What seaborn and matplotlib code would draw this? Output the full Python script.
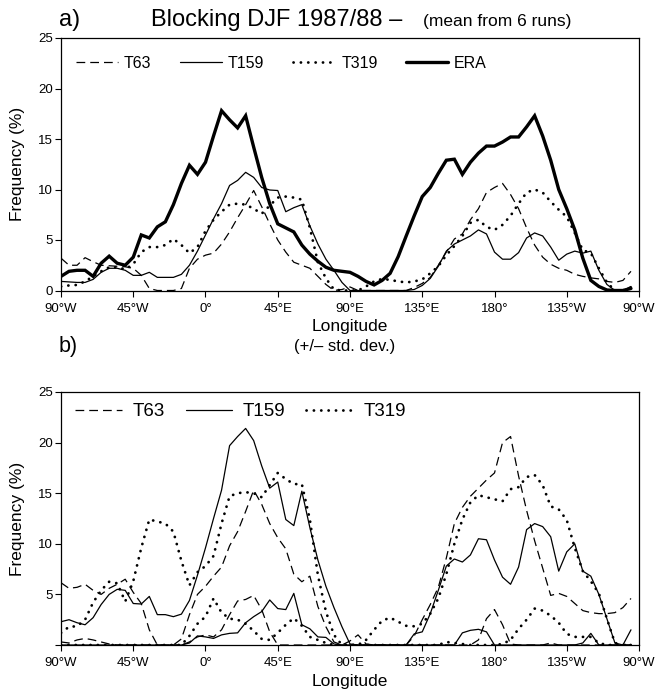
import numpy as np
import pandas as pd
import matplotlib
matplotlib.use("Agg")
import matplotlib.pyplot as plt
import seaborn as sns

sns.set_style("ticks")
plt.rcParams['font.family'] = ['Liberation Sans', 'DejaVu Sans']
for key in ["text.color", "axes.labelcolor", "xtick.color", "ytick.color", "axes.edgecolor"]:
    plt.rcParams[key] = "black"

# longitude grid, 90W .. 95W (degrees east, -90..265)
lon = list(range(-90, 270, 5))

# ---- panel a: mean blocking frequency (%)
era = [1.4, 1.9, 2.0, 2.0, 1.4, 2.7, 3.4, 2.7, 2.5,
       3.3, 5.5, 5.2, 6.3, 6.8, 8.5, 10.6, 12.4, 11.5,
       12.7, 15.3, 17.8, 16.9, 16.1, 17.3, 14.2, 11.2, 8.6,
       6.6, 6.2, 5.8, 4.5, 3.6, 2.9, 2.3, 2.0, 1.9,
       1.8, 1.4, 0.9, 0.55, 1.0, 1.7, 3.35, 5.4, 7.4,
       9.3, 10.2, 11.6, 12.9, 13.0, 11.5, 12.7, 13.6, 14.3,
       14.3, 14.7, 15.2, 15.2, 16.2, 17.3, 15.3, 12.9, 10.0,
       8.1, 6.0, 3.2, 1.0, 0.4, 0.05, 0.0, 0.0, 0.2]
t63 = [3.2, 2.5, 2.5, 3.25, 2.85, 2.5, 2.45, 2.4, 2.35,
       2.2, 1.5, 0.2, 0.0, 0.0, 0.0, 0.2, 2.2, 3.1,
       3.5, 3.7, 4.6, 5.8, 7.2, 8.5, 9.9, 8.3, 6.6,
       5.0, 3.8, 2.8, 2.5, 2.2, 1.4, 0.6, 0.0, 0.1,
       0.35, 0.0, 0.0, 0.0, 0.0, 0.0, 0.0, 0.0, 0.3,
       0.7, 1.3, 2.5, 3.8, 5.1, 5.6, 7.0, 8.1, 9.7,
       10.2, 10.6, 9.5, 8.1, 6.2, 4.5, 3.3, 2.6, 2.2,
       2.0, 1.6, 1.4, 1.25, 1.15, 0.9, 0.8, 1.0, 1.9]
t159 = [0.9, 0.85, 0.8, 0.8, 1.1, 1.8, 2.2, 2.2, 2.0,
        1.5, 1.5, 1.8, 1.3, 1.3, 1.3, 1.6, 2.5, 3.9,
        5.5, 7.1, 8.6, 10.4, 10.9, 11.7, 11.2, 10.2, 9.95,
        9.9, 7.8, 8.2, 8.5, 6.4, 4.6, 3.1, 2.0, 0.8,
        0.0, 0.0, 0.0, 0.0, 0.0, 0.0, 0.0, 0.0, 0.1,
        0.5, 1.2, 2.4, 3.9, 4.6, 5.0, 5.4, 6.0, 5.6,
        3.8, 3.1, 3.1, 3.75, 5.2, 5.7, 5.4, 4.3, 3.0,
        3.6, 3.9, 3.7, 3.9, 2.0, 0.6, 0.0, 0.0, 0.4]
t319 = [0.4, 0.5, 0.55, 0.9, 1.4, 1.9, 2.3, 2.3, 2.1,
        2.6, 3.8, 4.3, 4.3, 4.5, 5.1, 4.5, 3.7, 4.3,
        5.9, 7.0, 7.8, 8.5, 8.6, 8.5, 8.1, 7.6, 8.4,
        9.2, 9.3, 9.2, 9.0, 6.2, 2.8, 1.2, 0.1, 0.0,
        0.0, 0.0, 0.4, 0.9, 1.15, 1.05, 0.9, 0.8, 0.9,
        1.1, 1.7, 2.4, 3.5, 4.4, 5.4, 6.7, 7.0, 6.3,
        6.0, 6.5, 7.4, 8.6, 9.7, 10.0, 9.7, 8.8, 8.0,
        7.3, 5.7, 4.0, 3.7, 2.2, 0.8, 0.0, 0.0, 0.3]

# ---- panel b: mean +/- one standard deviation (%)
t63_hi = [6.15, 5.6, 5.7, 6.0, 5.4, 5.0, 5.6, 6.0, 6.5,
          5.2, 4.1, 1.5, 0.0, 0.0, 0.0, 0.6, 3.0, 5.0,
          5.8, 6.8, 7.7, 9.8, 11.2, 13.2, 15.3, 13.9, 12.0,
          10.6, 9.5, 7.0, 6.25, 6.8, 3.8, 1.8, 0.3, 0.0,
          0.4, 1.0, 0.1, 0.0, 0.0, 0.0, 0.0, 0.0, 0.9,
          2.5, 4.0, 5.7, 8.6, 12.0, 13.6, 14.7, 15.5, 16.3,
          17.0, 20.0, 20.6, 16.7, 13.3, 10.3, 7.6, 4.9, 5.1,
          4.8, 4.1, 3.4, 3.2, 3.1, 3.1, 3.2, 3.7, 4.6]
t63_lo = [0.3, 0.2, 0.5, 0.65, 0.5, 0.3, 0.1, 0.0, 0.0,
          0.0, 0.0, 0.0, 0.0, 0.0, 0.0, 0.0, 0.3, 0.8,
          1.0, 0.8, 1.5, 3.0, 4.35, 4.5, 4.9, 3.5, 1.3,
          0.0, 0.0, 0.0, 0.0, 0.0, 0.0, 0.0, 0.0, 0.0,
          0.0, 0.0, 0.0, 0.0, 0.0, 0.0, 0.0, 0.0, 0.0,
          0.0, 0.0, 0.0, 0.0, 0.0, 0.0, 0.0, 0.5, 2.6,
          3.5, 2.0, 0.1, 0.0, 0.0, 0.0, 0.0, 0.2, 0.0,
          0.0, 0.0, 0.0, 0.0, 0.0, 0.0, 0.0, 0.0, 0.0]
t159_hi = [2.3, 2.5, 2.2, 2.0, 2.7, 4.0, 5.0, 5.5, 5.4,
           4.1, 4.05, 4.8, 3.0, 3.0, 2.8, 3.05, 4.4, 6.9,
           9.6, 12.5, 15.3, 19.7, 20.6, 21.4, 20.2, 17.7, 15.5,
           16.1, 12.4, 11.8, 15.2, 11.6, 8.4, 5.8, 3.7, 1.8,
           0.1, 0.0, 0.0, 0.0, 0.0, 0.0, 0.0, 0.0, 1.1,
           1.3, 3.1, 5.4, 7.8, 8.5, 8.2, 8.9, 10.5, 10.4,
           8.4, 6.7, 6.0, 7.7, 11.4, 12.0, 11.7, 10.7, 7.3,
           9.2, 10.0, 7.3, 6.8, 5.0, 2.6, 0.2, 0.0, 1.5]
t159_lo = [0.0, 0.0, 0.0, 0.0, 0.0, 0.0, 0.0, 0.0, 0.0,
           0.0, 0.0, 0.0, 0.0, 0.0, 0.0, 0.0, 0.2, 0.9,
           0.8, 0.65, 1.0, 1.15, 1.2, 2.2, 2.8, 3.3, 4.45,
           3.6, 3.5, 5.1, 2.0, 1.6, 0.8, 0.75, 0.1, 0.0,
           0.0, 0.0, 0.0, 0.0, 0.0, 0.0, 0.0, 0.0, 0.0,
           0.0, 0.0, 0.0, 0.0, 0.0, 1.2, 1.45, 1.55, 1.3,
           0.0, 0.0, 0.0, 0.0, 0.0, 0.0, 0.0, 0.0, 0.0,
           0.0, 0.0, 0.2, 1.15, 0.0, 0.0, 0.0, 0.0, 0.0]
t319_hi = [1.2, 1.8, 1.85, 2.5, 4.2, 5.4, 6.25, 6.1, 4.3,
           6.3, 9.6, 12.4, 12.2, 12.0, 11.2, 8.3, 5.9, 7.2,
           7.8, 8.8, 12.0, 14.7, 15.0, 15.1, 15.0, 14.6, 15.8,
           17.0, 16.4, 15.9, 15.9, 12.4, 6.9, 3.3, 1.0, 0.0,
           0.0, 0.0, 0.5, 1.5, 2.4, 2.7, 2.3, 1.9, 1.85,
           2.1, 3.1, 4.6, 7.0, 10.0, 12.4, 14.1, 14.8, 14.6,
           14.4, 14.2, 15.4, 15.6, 16.6, 16.8, 15.8, 13.7, 13.4,
           12.35, 9.6, 7.3, 6.3, 5.1, 2.6, 0.2, 0.0, 0.0]
t319_lo = [0.0, 0.0, 0.0, 0.0, 0.0, 0.0, 0.0, 0.0, 0.0,
           0.0, 0.0, 0.0, 0.0, 0.0, 0.0, 0.0, 0.9, 2.1,
           2.8, 4.6, 3.2, 2.6, 2.5, 2.1, 1.4, 0.6, 0.5,
           1.2, 2.0, 2.65, 1.9, 0.8, 0.5, 0.2, 0.0, 0.0,
           0.0, 0.0, 0.0, 0.0, 0.0, 0.0, 0.0, 0.0, 0.0,
           0.0, 0.0, 0.0, 0.3, 0.2, 0.1, 0.0, 0.0, 0.0,
           0.0, 0.1, 0.5, 1.6, 2.5, 3.6, 3.4, 2.9, 2.2,
           1.1, 0.8, 0.8, 0.8, 0.2, 0.0, 0.0, 0.0, 0.0]

xtick_pos = [-90, -45, 0, 45, 90, 135, 180, 225, 270]
xtick_lab = ["90°W", "45°W", "0°", "45°E", "90°E", "135°E", "180°", "135°W", "90°W"]

W, H = 657, 692
fig = plt.figure(figsize=(W / 100, H / 100), dpi=100)
ax_a = fig.add_axes([61 / W, 1 - 290.5 / H, 578 / W, 252.5 / H])
ax_b = fig.add_axes([61 / W, 1 - 645 / H, 578 / W, 253 / H])

styles = {
    "T63": dict(color="black", lw=0.9, linestyle=(0, (7, 4))),
    "T159": dict(color="black", lw=0.9, linestyle="-"),
    "T319": dict(color="black", lw=2.0, linestyle=(0, (0.05, 2.6)), dash_capstyle="round"),
    "ERA": dict(color="black", lw=2.4, linestyle="-", solid_joinstyle="miter"),
}

df_a = pd.DataFrame({"lon": lon, "T63": t63, "T159": t159, "T319": t319, "ERA": era})
for name in ["T63", "T159", "T319", "ERA"]:
    sns.lineplot(data=df_a, x="lon", y=name, ax=ax_a, label=name,
                 estimator=None, errorbar=None, **styles[name])

df_b = pd.DataFrame({"lon": lon, "T63_hi": t63_hi, "T63_lo": t63_lo,
                     "T159_hi": t159_hi, "T159_lo": t159_lo,
                     "T319_hi": t319_hi, "T319_lo": t319_lo})
for name in ["T63", "T159", "T319"]:
    sns.lineplot(data=df_b, x="lon", y=name + "_hi", ax=ax_b, label=name,
                 estimator=None, errorbar=None, **styles[name])
    sns.lineplot(data=df_b, x="lon", y=name + "_lo", ax=ax_b,
                 estimator=None, errorbar=None, **styles[name])

for ax in (ax_a, ax_b):
    ax.set_xlim(-90, 270)
    ax.set_ylim(0, 25)
    ax.set_xticks(xtick_pos)
    ax.set_xticklabels(xtick_lab)
    ax.set_yticks([0, 5, 10, 15, 20, 25])
    ax.tick_params(axis="both", direction="out", length=4, width=0.8, labelsize=9.5)
    ax.tick_params(axis="x", pad=5)
    ax.tick_params(axis="y", pad=2)
    for sp in ax.spines.values():
        sp.set_visible(True)
        sp.set_linewidth(0.9)
        sp.set_color("black")
    ax.set_xlabel("Longitude", fontsize=12.5, labelpad=3)
    ax.set_ylabel("Frequency (%)", fontsize=12.5, labelpad=9)

ax_b.set_yticklabels(["", "5", "10", "15", "20", "25"])

ax_a.legend(loc="center left", bbox_to_anchor=(0.026, 0.9), ncol=4, frameon=False,
            fontsize=11.5, handlelength=2.6, handletextpad=0.4, columnspacing=1.8,
            borderpad=0, borderaxespad=0)
ax_b.legend(loc="center left", bbox_to_anchor=(0.025, 0.922), ncol=3, frameon=False,
            fontsize=13.5, handlelength=2.5, handletextpad=0.55, columnspacing=1.1,
            borderpad=0, borderaxespad=0)

fig.text(59 / W, 1 - 26 / H, "a)", fontsize=17, va="baseline", ha="left")
fig.text(151 / W, 1 - 26 / H, "Blocking DJF 1987/88 –", fontsize=17, va="baseline", ha="left")
fig.text(423 / W, 1 - 26 / H, "(mean from 6 runs)", fontsize=12.5, va="baseline", ha="left")
fig.text(59 / W, 1 - 352 / H, "b)", fontsize=15.5, va="baseline", ha="left")
fig.text(345 / W, 1 - 351 / H, "(+/– std. dev.)", fontsize=12, va="baseline", ha="center")

fig.savefig("out.png", dpi=100)
